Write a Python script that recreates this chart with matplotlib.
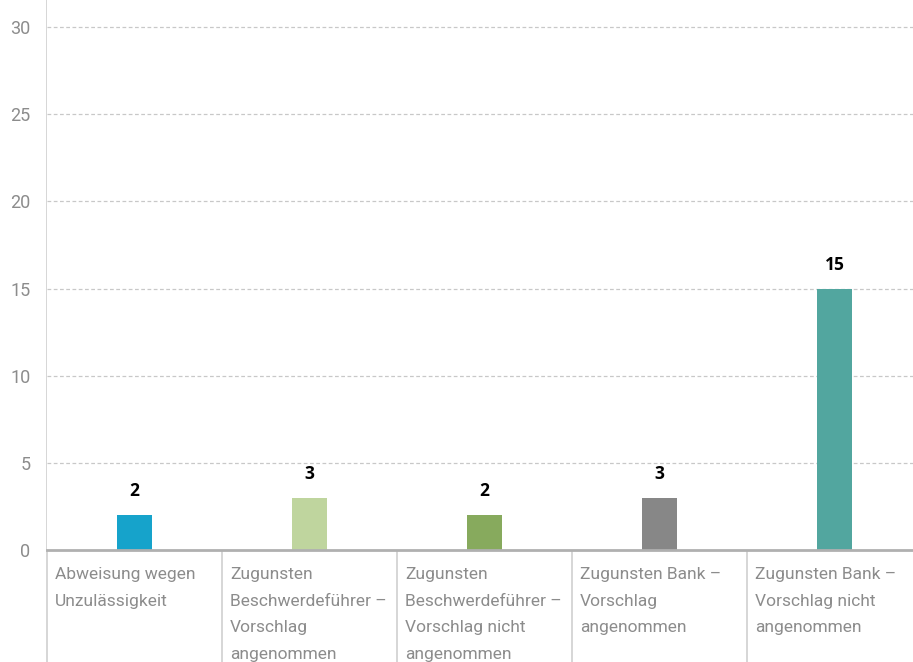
import matplotlib
matplotlib.use("Agg")
import matplotlib.pyplot as plt
from matplotlib.lines import Line2D
from matplotlib.transforms import blended_transform_factory

plt.rcParams["font.family"] = ["Roboto", "DejaVu Sans"]

# --- data ---
categories = [
    "Abweisung wegen\nUnzulässigkeit",
    "Zugunsten\nBeschwerdeführer –\nVorschlag\nangenommen",
    "Zugunsten\nBeschwerdeführer –\nVorschlag nicht\nangenommen",
    "Zugunsten Bank –\nVorschlag\nangenommen",
    "Zugunsten Bank –\nVorschlag nicht\nangenommen",
]
values = [2, 3, 2, 3, 15]
bar_colors = ["#16a3cb", "#bfd59e", "#87aa5d", "#878787", "#52a69f"]
y_ticks = [0, 5, 10, 15, 20, 25, 30]

GRID = "#c8c8c8"
TEXT_GRAY = "#8c8c8c"

fig = plt.figure(figsize=(9.13, 6.62), dpi=100)
ax = fig.add_axes([47 / 913, 112 / 662, 875 / 913, 550 / 662])

x = list(range(len(values)))
ax.bar(x, values, width=0.2, color=bar_colors, zorder=3)

for xi, v in zip(x, values):
    ax.annotate(str(v), (xi, v), xytext=(0, 15), textcoords="offset pixels",
                ha="center", va="bottom", fontsize=12.5, fontweight="bold",
                family=["Open Sans", "DejaVu Sans"], color="black")

ax.set_xlim(-0.5, len(values) - 0.5)
ax.set_ylim(0, 31.55)
ax.set_yticks(y_ticks)
ax.set_yticklabels([str(t) for t in y_ticks], color=TEXT_GRAY, fontsize=13)
ax.tick_params(axis="y", length=0, pad=12)
ax.set_xticks([])

for t in y_ticks[1:]:
    ax.axhline(t, color=GRID, linestyle=(0, (3, 2)), linewidth=0.9, zorder=1)
ax.axhline(0, color="#b0b0b0", linewidth=2, zorder=4, clip_on=False)

for s in ax.spines.values():
    s.set_visible(False)

# column separators run through the whole figure height
trans = blended_transform_factory(ax.transData, fig.transFigure)
for i in range(len(values) + 1):
    fig.add_artist(Line2D([i - 0.5, i - 0.5], [0, 1], transform=trans,
                          color="#cfcfcf", linewidth=1.2, zorder=0))

for xi, label in zip(x, categories):
    ax.annotate(label, (xi - 0.5, 0), xytext=(8, -17),
                textcoords="offset pixels", ha="left", va="top",
                fontsize=12.5, color=TEXT_GRAY,
                linespacing=1.96, annotation_clip=False)

fig.savefig("out.png", dpi=100)
